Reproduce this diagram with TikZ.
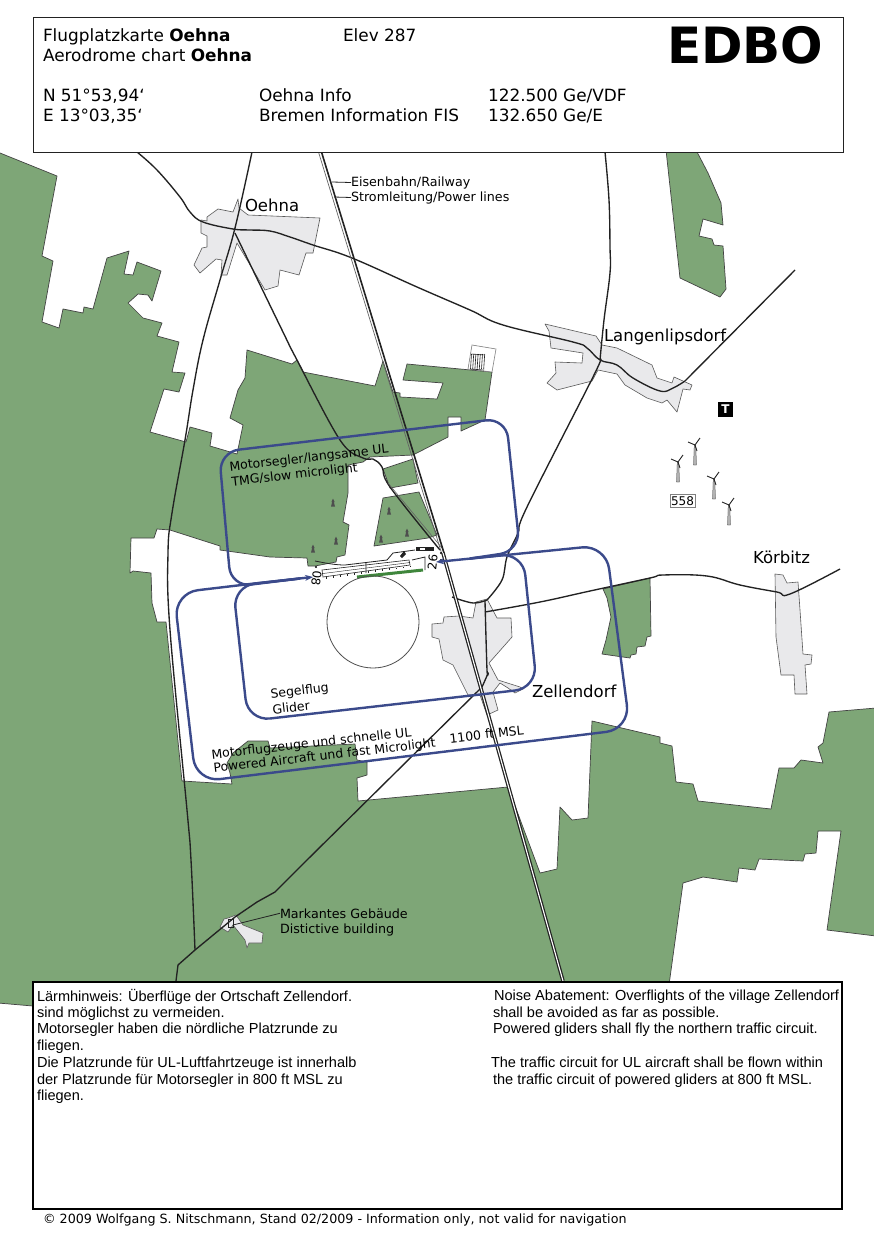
\documentclass[tikz,border=0pt]{standalone}
\usepackage{fontspec}
\setmainfont{DejaVu Sans}
\newfontfamily\panelfont{Liberation Sans}
\usetikzlibrary{arrows.meta}
\definecolor{forest}{HTML}{7EA677}
\definecolor{village}{HTML}{E9E9EB}
\definecolor{circuit}{HTML}{3B4A8B}
\definecolor{ink}{HTML}{222222}
\tikzset{
 woods/.style={fill=forest,draw=ink!85,line width=.7pt,line join=round},
 town/.style={fill=village,draw=ink!75,line width=.6pt,line join=round},
 road/.style={draw=ink,line width=1.35pt,line join=round},
 leader/.style={draw=ink,line width=.8pt},
 traffic/.style={draw=circuit,line width=2.4pt,rounded corners=24pt},
 txt/.style={anchor=base west,inner sep=0pt,outer sep=0pt,text=black},
 head/.style={txt,font=\fontsize{16.9}{20}\selectfont},
 place/.style={txt,font=\fontsize{16.5}{19}\selectfont},
 small/.style={txt,font=\fontsize{12.7}{15}\selectfont},
 tilt/.style={txt,font=\fontsize{12.5}{14}\selectfont,rotate=6.5},
 note/.style={txt,font=\panelfont\fontsize{14.55}{16}\selectfont},
 spruce/.style={fill=ink!80,draw=none},
}
\newcommand{\turbine}[2]{%
 \fill[gray!60,draw=ink,line width=.25pt] (#1-.8,#2) -- (#1-1.4,#2+20) -- (#1+1.4,#2+20) -- (#1+.8,#2) -- cycle;
 \draw[ink,line width=.9pt] (#1,#2) -- (#1+5,#2-7) (#1,#2) -- (#1-7,#2-3) (#1,#2) -- (#1+2,#2+6);
}
\begin{document}
\begin{tikzpicture}[x=1pt,y=-1pt]
\useasboundingbox (0,0) rectangle (874,1240);
\fill[white] (0,0) rectangle (874,1240);
% forests
\path[woods] (0,153) -- (57,176) -- (42,256) -- (53,261) -- (42,322) -- (59,328) -- (63,309) -- (83,313) -- (84,307) -- (93,309) -- (107,258) -- (129,251) -- (124,274) -- (133,275) -- (137,262) -- (161,271) -- (152,301) -- (148,295) -- (138,294) -- (128,303) -- (143,318) -- (162,323) -- (157,336) -- (179,342) -- (172,372) -- (185,373) -- (179,392) -- (164,389) -- (150,432) -- (186,442) -- (190,427) -- (212,433) -- (210,446) -- (237,454) -- (243,425) -- (230,418) -- (238,390) -- (245,378) -- (247,350) -- (292,364) -- (297,360) -- (303,372) -- (375,386) -- (383,361) -- (393,392) -- (400,393) -- (400,397) -- (437,399) -- (443,383) -- (403,380) -- (407,364) -- (492,372) -- (485,420) -- (461,431) -- (461,417) -- (448,417) -- (448,437) -- (413,455) -- (370,457) -- (363,462) -- (348,465) -- (348,493) -- (343,522) -- (349,525) -- (345,555) -- (337,557) -- (336,562) -- (315,566) -- (308,566) -- (307,558) -- (270,557) -- (220,550) -- (220,546) -- (170,530) -- (157,529) -- (154,538) -- (131,538) -- (130,573) -- (133,571) -- (151,573) -- (152,603) -- (157,622) -- (166,622) -- (182,781) -- (232,784) -- (230,773) -- (227,763) -- (233,753) -- (248,741) -- (268,741) -- (270,748) -- (355,744) -- (357,760) -- (367,762) -- (367,775) -- (357,778) -- (358,801) -- (508,787) -- (540,873) -- (557,869) -- (560,807) -- (572,820) -- (588,818) -- (592,721) -- (660,737) -- (660,743) -- (672,746) -- (676,782) -- (693,784) -- (698,801) -- (771,809) -- (779,768) -- (794,768) -- (801,760) -- (823,763) -- (818,747) -- (823,743) -- (829,712) -- (876,708) -- (876,936) -- (827,930) -- (841,831) -- (818,831) -- (816,853) -- (805,854) -- (803,861) -- (759,859) -- (755,870) -- (739,868) -- (737,882) -- (703,877) -- (683,883) -- (669,985) -- (40,990) -- (33,1006) -- (-2,1003) -- (-2,152) -- cycle;
\path[woods] (383,469) -- (413,459) -- (418,483) -- (390,488) -- cycle;
\path[woods] (383,498) -- (419,492) -- (437,535) -- (428,538) -- (374,546) -- cycle;
\path[woods] (666,150) -- (696,150) -- (708,173) -- (721,203) -- (723,225) -- (703,219) -- (699,236) -- (712,239) -- (714,245) -- (723,246) -- (726,289) -- (720,297) -- (680,278) -- cycle;
\path[woods] (603,589) -- (650,578) -- (651,636) -- (647,637) -- (645,646) -- (637,647) -- (636,654) -- (631,655) -- (630,658) -- (602,654) -- (606,640) -- (611,617) -- (607,598) -- cycle;
% spruces
\foreach \tx/\ty in {333/503,336/541,313/549,389/511,407/533,381/539}{
 \path[spruce] (\tx,\ty-4.5) -- (\tx+1.6,\ty-1) -- (\tx+.8,\ty-1) -- (\tx+2,\ty+3.5) -- (\tx-2,\ty+3.5) -- (\tx-.8,\ty-1) -- (\tx-1.6,\ty-1) -- cycle;
}
% villages
\path[town] (238,199) -- (239,208) -- (248,215) -- (320,218) -- (313,253) -- (306,253) -- (299,275) -- (280,270) -- (278,286) -- (265,290) -- (237,243) -- (227,275) -- (221,275) -- (222,260) -- (216,259) -- (200,273) -- (194,265) -- (202,248) -- (207,247) -- (207,236) -- (201,233) -- (201,220) -- (207,221) -- (207,217) -- (218,209) -- (233,212) -- cycle;
\path[town] (545,324) -- (596,336) -- (602,345) -- (617,348) -- (652,365) -- (657,378) -- (672,383) -- (674,377) -- (692,385) -- (690,390) -- (683,389) -- (677,412) -- (667,400) -- (662,403) -- (647,398) -- (625,385) -- (617,374) -- (598,370) -- (592,381) -- (557,390) -- (547,383) -- (556,373) -- (555,362) -- (582,363) -- (583,353) -- (551,348) -- (549,331) -- cycle;
\path[town] (775,574) -- (783,575) -- (787,583) -- (798,582) -- (800,610) -- (803,654) -- (812,655) -- (811,664) -- (805,665) -- (807,694) -- (795,694) -- (794,675) -- (781,675) -- (776,637) -- cycle;
\path[town] (432,624) -- (443,623) -- (444,617) -- (459,616) -- (473,618) -- (476,602) -- (487,599) -- (497,618) -- (511,618) -- (512,637) -- (489,663) -- (498,680) -- (520,687) -- (523,689) -- (515,693) -- (508,688) -- (500,683) -- (493,692) -- (498,710) -- (487,715) -- (480,695) -- (468,695) -- (453,665) -- (443,660) -- (439,639) -- (432,637) -- cycle;
\path[town] (220,927) -- (224,919) -- (228,918) -- (236,915) -- (243,925) -- (263,933) -- (262,943) -- (249,943) -- (247,948) -- (245,940) -- (241,935) -- (233,925) -- (228,932) -- cycle;
\draw[ink,line width=.8pt] (228,919) rectangle (233,927);
% roads
\draw[road] plot[smooth,tension=.65] coordinates {(137,152) (157,170) (180,197) (190,212) (203,222) (233,229) (250,230) (270,231) (290,237) (313,245) (352,258) (417,287) (470,310) (503,325) (573,342) (587,348) (600,360) (617,365) (633,378) (660,391) (673,388) (685,381)};
\draw[road] (685,381) -- (795,270);
\draw[road] plot[smooth,tension=.65] coordinates {(605,152) (609,200) (610,247) (610,273) (604,320) (600,360)};
\draw[road] plot[smooth,tension=.6] coordinates {(600,360) (593,377) (527,507) (518,533) (507,557) (502,580) (487,600)};
\draw[road] plot[smooth,tension=.6] coordinates {(452,597) (473,603) (487,600)};
\draw[road] plot[smooth,tension=.6] coordinates {(485,601) (487,670) (488,673) (482,687)};
\draw[road] (482,687) -- (307,860) -- (275,892) -- (257,902) -- (235,917) -- (195,950) -- (178,965) -- (176,981);
\draw[road] plot[smooth,tension=.65] coordinates {(252,152) (235,228) (220,280) (203,340) (193,390) (185,440) (172,513) (168,553) (170,630) (187,810) (191,860) (195,950)};
\draw[road] plot[smooth,tension=.6] coordinates {(235,233) (282,330) (297,360) (340,440) (363,458) (373,459) (382,467) (390,487) (440,550)};
\draw[draw=ink!70,line width=.6pt] (388,483) -- (442,548);
\draw[road] plot[smooth,tension=.65] coordinates {(485,612) (540,602) (590,591) (650,578) (663,575) (707,576) (740,585) (777,592) (790,594) (840,569)};
% railway and power line
\draw[draw=ink!70,line width=.7pt] (318.5,152) -- (441.5,553);
\draw[draw=ink,line width=1.6pt] (321.5,152) -- (444,553);
\draw[draw=ink,line width=3.6pt] (443,553) -- (563,981);
\draw[draw=white,line width=1.1pt] (443,553) -- (563,981);
\coordinate (railmark) at (332,182);
\coordinate (powermark) at (334,197);
% runway
\path[fill=white,draw=ink,line width=.6pt] (322,570) -- (409,560) -- (410,565) -- (323,577) -- cycle;
\draw[ink,line width=.4pt] (323,573.5) -- (410,562.5);
\foreach \p in {0,1,...,12}{\draw[ink,line width=.5pt] ({326+\p*7},{577-\p*.95}) -- ++(0,1.5);}
\draw[ink,line width=.8pt] (315,561) .. controls (325,563) and (335,565) .. (345,565) -- (387,560) -- (393,553) -- (415,550) (366,563) -- (366,573) (412,560) -- (425,557) -- (425,570);
\draw[draw=black!60!green!50!forest,line width=3pt] (357,577) -- (423,570);
\fill[ink] (416,547) rectangle (434,551);
\fill[white] (420,548) rectangle (425,550);
\fill[ink] (400,556) -- (404,551) -- (406,554) -- (402,558) -- cycle;
\fill[black] (316,567) circle (1.2pt) (441,553) circle (1.2pt) (441,560) circle (1.2pt);
% hangar
\path[fill=white,draw=gray,line width=.6pt] (472,345) -- (496,349) -- (492,372) -- (468,369) -- cycle;
\foreach \h in {0,1,...,6}{\draw[ink,line width=.6pt] ({471.5+\h*2.2},354) -- ({470.5+\h*2.2},369);}
\draw[ink,line width=.6pt] (471.5,354) -- (485,355) (470.5,369) -- (484,370);
% circle
\draw[ink!80,line width=.8pt] (373,622) circle (46);
% circuits
\draw[traffic,rounded corners=22pt] (300,578.5) -- (233,586) -- (248,721) -- (537,688) -- (523,553) -- (470,558.5);
\draw[traffic,rounded corners=20pt] (300,578.5) -- (231,587) -- (219,452) -- (506,418) -- (520,551) -- (470,558.5);
\draw[traffic,-{Stealth[length=8pt,width=6pt]}] (250,584) -- (174,593) -- (196,782) -- (630,729) -- (606,545) -- (436,562);
\draw[draw=circuit,line width=2.4pt,-{Stealth[length=8pt,width=6pt]}] (250,584) -- (313,577);
% turbines
\turbine{678}{462}
\turbine{695}{445}
\turbine{714}{479}
\turbine{729}{505}
% symbols
\node[fill=black,minimum size=15pt,inner sep=0pt,text=white,font=\bfseries\fontsize{12}{12}\selectfont] (tmark) at (725.5,409.5) {T};
\node[draw=gray,fill=white,line width=.9pt,minimum width=25pt,minimum height=12.5pt,inner sep=0pt,font=\fontsize{12}{12}\selectfont] (road558) at (682.5,501) {558};
% map labels
\node[place] (oehna) at (245,211.5) {Oehna};
\node[place] (langen) at (604,341) {Langenlipsdorf};
\node[place] (koerbitz) at (753,563) {Körbitz};
\node[place] (zellen) at (532,697) {Zellendorf};
\node[small] (rail) at (351,186) {Eisenbahn/Railway};
\node[small] (power) at (351,201) {Stromleitung/Power lines};
\node[small] (mark1) at (280,918) {Markantes Gebäude};
\node[small] (mark2) at (280,933) {Distictive building};
\draw[leader] (railmark) -- (rail.west);
\draw[leader] (powermark) -- (power.west);
\coordinate (bldg) at (233,925);
\draw[leader] (bldg) -- (mark1.west);
\node[tilt] (tmg1) at (230,471) {Motorsegler/langsame UL};
\node[tilt] (tmg2) at (232,486) {TMG/slow microlight};
\node[tilt] (gl1) at (271,698) {Segelflug};
\node[tilt] (gl2) at (273,714) {Glider};
\node[tilt] (pw1) at (212,759) {Motorflugzeuge und schnelle UL};
\node[tilt] (pw2) at (214,772.5) {Powered Aircraft und fast Microlight};
\node[tilt] (ft) at (450,743) {1100 ft MSL};
\node[txt,font=\fontsize{12}{14}\selectfont,rotate=-97] (rw08) at (313,570) {08};
\node[txt,font=\fontsize{12}{14}\selectfont,rotate=83] (rw26) at (436,570) {26};
% header
\path[fill=white,draw=ink,line width=1pt] (33,17) rectangle (843,152);
\node[head] (h1) at (43,41.5) {Flugplatzkarte \textbf{Oehna}};
\node[head] (h2) at (43,61.5) {Aerodrome chart \textbf{Oehna}};
\node[head] (h3) at (343,41.5) {Elev 287};
\node[head] (h4) at (43,101.5) {N 51°53,94‘};
\node[head] (h5) at (43,121.5) {E 13°03,35‘};
\node[head] (h6) at (259,101.5) {Oehna Info};
\node[head] (h7) at (259,121.5) {Bremen Information FIS};
\node[head] (h8) at (488,101.5) {122.500 Ge/VDF};
\node[head] (h9) at (488,121.5) {132.650 Ge/E};
\node[txt,font=\bfseries\fontsize{50}{52}\selectfont] (edbo) at (667,63) {EDBO};
% notes
\path[fill=white,draw=black,line width=2pt] (33,982) rectangle (842,1209);
\node[note] (n1) at (37,1001) {Lärmhinweis: Überflüge der Ortschaft Zellendorf.};
\node[note] (n2) at (37,1017) {sind möglichst zu vermeiden.};
\node[note] (n3) at (37,1033) {Motorsegler haben die nördliche Platzrunde zu};
\node[note] (n4) at (37,1050) {fliegen.};
\node[note] (n5) at (37,1067) {Die Platzrunde für UL-Luftfahrtzeuge ist innerhalb};
\node[note] (n6) at (37,1084) {der Platzrunde für Motorsegler in 800 ft MSL zu};
\node[note] (n7) at (37,1100) {fliegen.};
\node[note] (e1) at (494,1000) {Noise Abatement: Overflights of the village Zellendorf};
\node[note] (e2) at (493,1017) {shall be avoided as far as possible.};
\node[note] (e3) at (493,1033) {Powered gliders shall fly the northern traffic circuit.};
\node[note] (e4) at (491,1067) {The traffic circuit for UL aircraft shall be flown within};
\node[note] (e5) at (493,1084) {the traffic circuit of powered gliders at 800 ft MSL.};
\node[txt,font=\fontsize{12.7}{15}\selectfont] (copy) at (43,1223) {© 2009 Wolfgang S. Nitschmann, Stand 02/2009 - Information only, not valid for navigation};
\end{tikzpicture}
\end{document}
